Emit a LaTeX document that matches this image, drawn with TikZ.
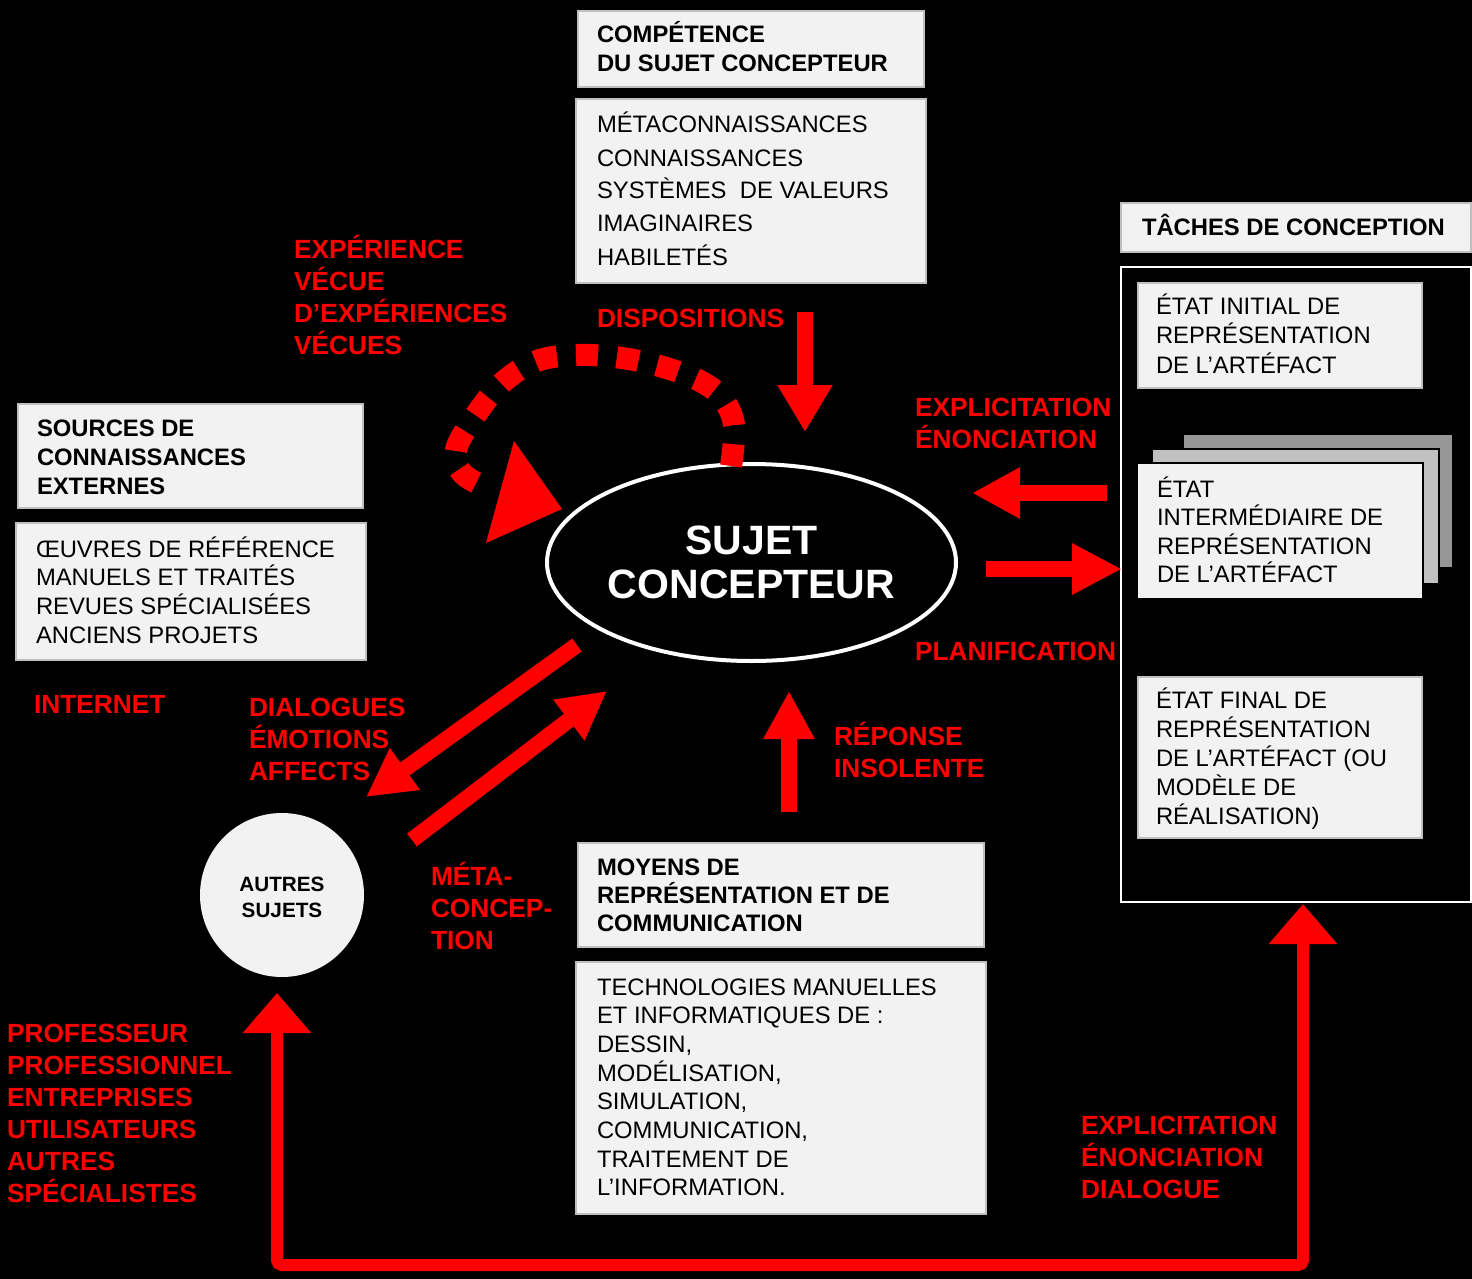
\documentclass[tikz,border=0pt]{standalone}
\usepackage{fontspec}
\setmainfont{Liberation Sans}
\usetikzlibrary{arrows.meta,shapes.geometric,calc}
\definecolor{boxgray}{HTML}{F2F2F2}
\definecolor{boxline}{HTML}{BFBFBF}
\definecolor{cardthree}{HTML}{969696}
\definecolor{cardtwo}{HTML}{C0C0C0}
\definecolor{vred}{HTML}{FF0000}
\newcommand{\txtlines}[1]{\begin{minipage}[t]{600pt}#1\end{minipage}}
\tikzset{
  every node/.style={inner sep=0pt, outer sep=0pt},
  gbox/.style={draw=boxline, line width=1.2pt, fill=boxgray, anchor=north west},
  card/.style={draw=black, line width=1.5pt, anchor=north west},
  ttl/.style={anchor=base west, font=\bfseries\fontsize{23.8}{#1}\selectfont, text=black},
  ttl/.default=29,
  lst/.style={anchor=base west, font=\fontsize{23.8}{#1}\selectfont, text=black},
  lst/.default=29,
  rlab/.style={anchor=base west, font=\bfseries\fontsize{26.3}{32}\selectfont, text=vred},
  bigarrow/.style={draw=vred, line width=16pt, -{Triangle[length=48pt,width=48pt]}},
  looparrow/.style={draw=vred, line width=12pt, rounded corners=5pt,
     {Triangle[length=40pt,width=66pt]}-{Triangle[length=40pt,width=66pt]}},
  dotarc/.style={draw=vred, line width=22pt, dash pattern=on 22pt off 19pt},
}
\begin{document}
\begin{tikzpicture}[x=1pt,y=-1pt]
\useasboundingbox (0,0) rectangle (1472,1279);
\fill[black] (0,0) rectangle (1472,1279);

% ---- boxes ----
\node[gbox, minimum width=346pt, minimum height=76pt] (comp) at (578,11) {};
\node[gbox, minimum width=350pt, minimum height=184pt] (disp) at (576,99) {};
\node[gbox, minimum width=350pt, minimum height=49pt] (tachtitle) at (1121,203) {};
\node[draw=white, line width=2.5pt, fill=black, anchor=north west, minimum width=350pt, minimum height=635pt] (tachframe) at (1121,267) {};
\node[gbox, minimum width=284pt, minimum height=105pt] (etatinit) at (1138,283) {};
\node[card, fill=cardthree, minimum width=270pt, minimum height=134pt] (cardc) at (1183,434) {};
\node[card, fill=cardtwo, minimum width=287pt, minimum height=135pt] (cardb) at (1152,449) {};
\node[card, fill=boxgray, minimum width=286pt, minimum height=136pt] (etatinter) at (1137,463) {};
\node[gbox, minimum width=284pt, minimum height=161pt] (etatfinal) at (1138,677) {};
\node[gbox, minimum width=345pt, minimum height=104pt] (sources) at (18,404) {};
\node[gbox, minimum width=350pt, minimum height=137pt] (oeuvres) at (16,523) {};
\node[gbox, minimum width=406pt, minimum height=104pt] (moyens) at (578,843) {};
\node[gbox, minimum width=410pt, minimum height=252pt] (techno) at (576,962) {};

% ---- box texts ----
\node[ttl] (tcomp) at (597,43) {\txtlines{COMPÉTENCE\\DU SUJET CONCEPTEUR}};
\node[lst=33] (tdisp) at (597,133) {\txtlines{MÉTACONNAISSANCES\\CONNAISSANCES\\SYSTÈMES\ \ DE VALEURS\\IMAGINAIRES\\HABILETÉS}};
\node[ttl] (ttach) at (1142,235) {TÂCHES DE CONCEPTION};
\node[lst=29.5] (tinit) at (1156,314) {\txtlines{ÉTAT INITIAL DE\\REPRÉSENTATION\\DE L’ARTÉFACT}};
\node[lst=28.5] (tinter) at (1157,497) {\txtlines{ÉTAT\\INTERMÉDIAIRE DE\\REPRÉSENTATION\\DE L’ARTÉFACT}};
\node[lst=29] (tfinal) at (1156,708) {\txtlines{ÉTAT FINAL DE\\REPRÉSENTATION\\DE L’ARTÉFACT (OU\\MODÈLE DE\\RÉALISATION)}};
\node[ttl] (tsources) at (37,436) {\txtlines{SOURCES DE\\CONNAISSANCES\\EXTERNES}};
\node[lst=28.7] (toeuvres) at (36,557) {\txtlines{ŒUVRES DE RÉFÉRENCE\\MANUELS ET TRAITÉS\\REVUES SPÉCIALISÉES\\ANCIENS PROJETS}};
\node[ttl=28] (tmoyens) at (597,875) {\txtlines{MOYENS DE\\REPRÉSENTATION ET DE\\COMMUNICATION}};
\node[lst=28.7] (ttechno) at (597,995) {\txtlines{TECHNOLOGIES MANUELLES\\ET INFORMATIQUES DE :\\DESSIN,\\MODÉLISATION,\\SIMULATION,\\COMMUNICATION,\\TRAITEMENT DE\\L’INFORMATION.}};

% ---- central ellipse and circle ----
\node[ellipse, draw=white, line width=4pt, fill=black, minimum width=409pt, minimum height=197pt,
      font=\bfseries\fontsize{41}{44}\selectfont, text=white, align=center] (sc) at (751.5,562.5) {SUJET\\CONCEPTEUR};
\node[circle, fill=boxgray, minimum size=164pt] (autres) at (282,895) {};
\node[font=\bfseries\fontsize{20.7}{26}\selectfont, text=black, align=center] (tautres) at (282,897) {AUTRES\\SUJETS};

% ---- red labels ----
\node[rlab] (lexp) at (294,258) {\txtlines{EXPÉRIENCE\\VÉCUE\\D’EXPÉRIENCES\\VÉCUES}};
\node[rlab] (ldisp) at (597,327) {DISPOSITIONS};
\node[rlab] (lexpl) at (915,416) {\txtlines{EXPLICITATION\\ÉNONCIATION}};
\node[rlab] (lplan) at (915,660) {PLANIFICATION};
\node[rlab] (linternet) at (34,713) {INTERNET};
\node[rlab] (ldial) at (249,716) {\txtlines{DIALOGUES\\ÉMOTIONS\\AFFECTS}};
\node[rlab] (lmeta) at (431,885) {\txtlines{MÉTA-\\CONCEP-\\TION}};
\node[rlab] (lrep) at (834,745) {\txtlines{RÉPONSE\\INSOLENTE}};
\node[rlab] (lprof) at (7,1042) {\txtlines{PROFESSEUR\\PROFESSIONNEL\\ENTREPRISES\\UTILISATEURS\\AUTRES\\SPÉCIALISTES}};
\node[rlab] (lexpl2) at (1081,1134) {\txtlines{EXPLICITATION\\ÉNONCIATION\\DIALOGUE}};

% ---- connector end points ----
\coordinate (dispA) at (805,312);
\coordinate (dispB) at (805,432);
\coordinate (explA) at (1107,493);
\coordinate (explB) at (972,493);
\coordinate (planA) at (986,569);
\coordinate (planB) at (1122,569);
\coordinate (repA) at (789,812);
\coordinate (repB) at (789,691);
\coordinate (dialA) at (577,645);
\coordinate (dialB) at (366,797);
\coordinate (metaA) at (412,840);
\coordinate (metaB) at (607,691);
\coordinate (loopA) at (1303,904);
\coordinate (loopB) at (277,993);
\coordinate (arcA) at (731,466);
\coordinate (arcB) at (492,490);

% ---- arrows ----
\draw[draw=vred, line width=16pt, -{Triangle[length=47pt,width=52pt]}] (dispA) -- (dispB);
\draw[bigarrow] (explA) -- (explB);
\draw[bigarrow, -{Triangle[length=50pt,width=48pt]}] (planA) -- (planB);
\draw[bigarrow] (repA) -- (repB);
\draw[bigarrow] (dialA) -- (dialB);
\draw[bigarrow] (metaA) -- (metaB);
\draw[looparrow] (loopA) -- (1303,1265) -- (277,1265) -- (loopB);

% dotted self loop
\draw[dotarc] plot[smooth, tension=0.6] coordinates {(arcA) (734,425) (722,398) (700,381) (663,367) (622,358) (578,355) (537,361) (502,383) (475,416) (456,450) (463,474) (arcB)};
\fill[vred] (514,441) -- (562,509) -- (486,543) -- cycle;
\end{tikzpicture}
\end{document}
